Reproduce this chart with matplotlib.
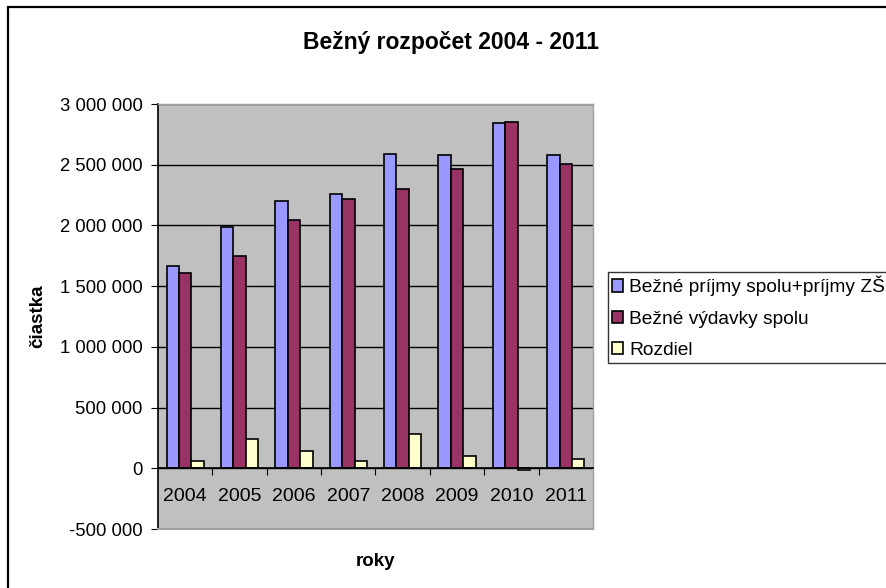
import matplotlib
matplotlib.use("Agg")
import matplotlib.pyplot as plt
from matplotlib.patches import Rectangle
from matplotlib.ticker import FuncFormatter, FixedLocator
import numpy as np

plt.rcParams['font.family'] = ['Liberation Sans', 'DejaVu Sans']

years = ["2004", "2005", "2006", "2007", "2008", "2009", "2010", "2011"]
prijmy = [1670000, 1985000, 2200000, 2260000, 2590000, 2578000, 2840000, 2578000]
vydavky = [1605000, 1748000, 2045000, 2215000, 2300000, 2468000, 2855000, 2505000]
rozdiel = [62000, 242000, 146000, 62000, 283000, 100000, -12000, 76000]
series_names = ["Bežné príjmy spolu+príjmy ZŠ", "Bežné výdavky spolu", "Rozdiel"]
colors = ["#9999FF", "#993366", "#FFFFCC"]

W, H = 887, 588
fig = plt.figure(figsize=(W / 100, H / 100), dpi=100)

# outer chart frame (right and bottom edges lie outside the image)
fig.patches.append(Rectangle((8 / W, -0.2), 1.2, 1.2 - 7 / H, transform=fig.transFigure,
                             fill=False, edgecolor="black", linewidth=1.6, clip_on=False))

x0, x1, y0, y1 = 158, 593, 104, 529
ax = fig.add_axes([x0 / W, 1 - y1 / H, (x1 - x0) / W, (y1 - y0) / H])
ax.set_facecolor("#C0C0C0")

x = np.arange(len(years))
bw = 0.228
for i, (vals, c, name) in enumerate(zip([prijmy, vydavky, rozdiel], colors, series_names)):
    ax.bar(x + (i - 1) * bw, vals, width=bw, color=c, edgecolor="black", linewidth=1.2,
           label=name, zorder=3)

ax.set_xlim(-0.5, len(years) - 0.5)
ax.set_ylim(-500000, 3000000)
ax.set_yticks(np.arange(-500000, 3000001, 500000))
ax.yaxis.set_major_formatter(FuncFormatter(lambda v, p: f"{int(v):,}".replace(",", " ")))
ax.grid(axis="y", color="black", linewidth=1.0, zorder=1)
ax.tick_params(axis="y", direction="out", length=5, labelsize=13.3, pad=6, color="black")

# x axis at zero with boundary ticks
ax.spines['bottom'].set_position(('data', 0))
ax.spines['bottom'].set_color("black")
ax.spines['bottom'].set_linewidth(1.2)
ax.spines['bottom'].set_zorder(4)
ax.xaxis.set_major_locator(FixedLocator(np.arange(0.5, len(years) - 0.5, 1.0)))
ax.xaxis.set_major_formatter(FuncFormatter(lambda v, p: ""))
ax.tick_params(axis="x", which="major", direction="out", length=5, color="black")
ax.set_xticks(x, minor=True)
ax.set_xticklabels(years, minor=True)
ax.tick_params(axis="x", which="minor", length=0, labelsize=14, pad=14)

ax.spines['left'].set_color("black")
ax.spines['left'].set_linewidth(1.2)
for s in ['top', 'right']:
    ax.spines[s].set_color("#A0A0A0")
    ax.spines[s].set_linewidth(1.0)
# bottom border of plot area
ax.plot([0, 1], [0, 0], transform=ax.transAxes, color="#A0A0A0", linewidth=1.5, clip_on=False, zorder=5)

fig.text(451 / W, 1 - 43 / H, "Bežný rozpočet 2004 - 2011", ha="center", va="center",
         fontsize=16.5, fontweight="bold")
fig.text(376 / W, 1 - 562 / H, "roky", ha="center", va="center", fontsize=13.5, fontweight="bold")
fig.text(38 / W, 1 - 316 / H, "čiastka", ha="center", va="center", fontsize=13.5,
         fontweight="bold", rotation=90)

leg = fig.legend(loc="upper left", bbox_to_anchor=(608 / W, 1 - 272 / H), fontsize=13.8,
                 frameon=True, fancybox=False, edgecolor="black", handlelength=0.6,
                 handleheight=0.6, handletextpad=0.3, borderpad=0.2, labelspacing=0.75,
                 borderaxespad=0)
leg.get_frame().set_linewidth(1.0)

fig.savefig("out.png", dpi=100)
